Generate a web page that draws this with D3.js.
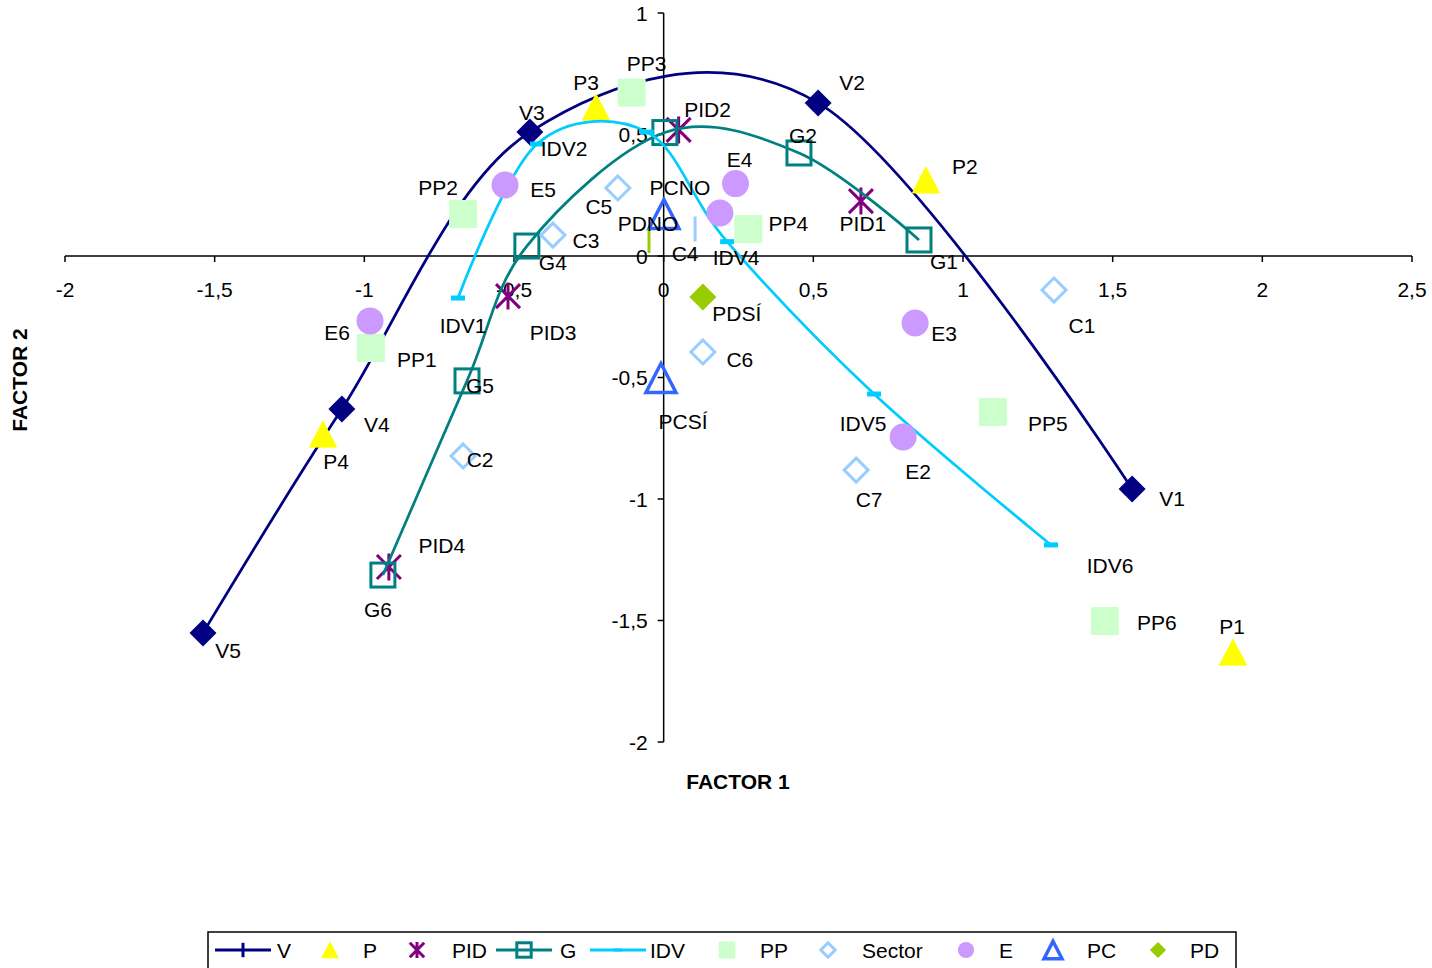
<!DOCTYPE html>
<html>
<head>
<meta charset="utf-8">
<script src="https://cdn.jsdelivr.net/npm/d3@7"></script>
<style>
  html, body { margin: 0; padding: 0; background: #fff; }
  svg { display: block; font-family: "Liberation Sans", Arial, sans-serif; }
</style>
</head>
<body>
<svg id="chart" width="1432" height="968"></svg>
<script>
// ---- Data: factor scores (FACTOR 1, FACTOR 2) ----
const vNames = ["V1", "V2", "V3", "V4", "V5"];
const vX = [1.565, 0.516, -0.447, -1.075, -1.539];
const vY = [-0.959, 0.630, 0.510, -0.630, -1.551];

const pNames = ["P1", "P2", "P3", "P4"];
const pX = [1.902, 0.876, -0.226, -1.138];
const pY = [-1.630, 0.313, 0.613, -0.733];

const pidNames = ["PID1", "PID2", "PID3", "PID4"];
const pidX = [0.659, 0.050, -0.520, -0.918];
const pidY = [0.226, 0.519, -0.165, -1.280];

const gNames = ["G1", "G2", "G3", "G4", "G5", "G6"];
const gX = [0.853, 0.452, 0.004, -0.457, -0.657, -0.938];
const gY = [0.066, 0.424, 0.508, 0.041, -0.514, -1.313];

const idvNames = ["IDV1", "IDV2", "IDV3", "IDV4", "IDV5", "IDV6"];
const idvX = [-0.687, -0.423, -0.056, 0.212, 0.703, 1.294];
const idvY = [-0.173, 0.461, 0.510, 0.059, -0.568, -1.189];

const ppNames = ["PP1", "PP2", "PP3", "PP4", "PP5", "PP6"];
const ppX = [-0.978, -0.670, -0.107, 0.283, 1.100, 1.474];
const ppY = [-0.379, 0.173, 0.673, 0.111, -0.642, -1.502];

const cNames = ["C1", "C2", "C3", "C4", "C5", "C6", "C7"];
const cX = [1.304, -0.670, -0.370, 0.105, -0.153, 0.131, 0.643];
const cY = [-0.140, -0.823, 0.086, 0.111, 0.280, -0.395, -0.881];

const eNames = ["E1", "E2", "E3", "E4", "E5", "E6"];
const eX = [0.188, 0.800, 0.840, 0.240, -0.530, -0.981];
const eY = [0.177, -0.745, -0.276, 0.298, 0.292, -0.267];

const pcNames = ["PCNO", "PCSÍ"];
const pcX = [0.001, -0.009];
const pcY = [0.173, -0.502];

const pdNames = ["PDSÍ", "PDNO"];
const pdX = [0.131, -0.049];
const pdY = [-0.169, 0.064];

const xTicks = [-2, -1.5, -1, -0.5, 0, 0.5, 1, 1.5, 2, 2.5];
const yTicks = [1, 0.5, 0, -0.5, -1, -1.5, -2];
const legendNames = ["V", "P", "PID", "G", "IDV", "PP", "Sector", "E", "PC", "PD"];

// ---- Layout ----
const svg = d3.select("#chart");
const FONT = 21;
const x = d3.scaleLinear().domain([-2, 2.5]).range([65, 1412]);
const y = d3.scaleLinear().domain([-2, 1]).range([742, 13]);
const fmt = v => String(v).replace(".", ",");

const zip = (names, xs, ys) => names.map((n, i) => ({ name: n, x: xs[i], y: ys[i] }));

// Data-label offsets in pixels (label centre relative to the marker)
const labelOffset = {
  V1: [40, 9], V2: [34, -20], V3: [2, -20], V4: [35, 15], V5: [25, 18],
  P1: [-1, -26], P2: [39, -13], P3: [-10, -25], P4: [13, 27],
  PID1: [2, 22], PID2: [29, -20], PID3: [45, 36], PID4: [53, -22],
  G1: [25, 22], G2: [4, -17], G4: [26, 16], G5: [13, 5], G6: [-5, 34],
  IDV1: [5, 27], IDV2: [27, 5], IDV4: [9, 16], IDV5: [-11, 29], IDV6: [59, 21],
  PP1: [46, 11], PP2: [-25, -26], PP3: [15, -29], PP4: [40, -6], PP5: [55, 11], PP6: [52, 2],
  C1: [28, 35], C2: [17, 4], C3: [33, 5], C4: [-10, 24], C5: [-19, 19], C6: [37, 8], C7: [13, 29],
  E2: [15, 34], E3: [29, 10], E4: [4, -24], E5: [38, 4], E6: [-33, 12],
  "PCNO": [16, -26], "PCSÍ": [22, 44],
  "PDSÍ": [34, 16], "PDNO": [-1, -17]
};
// points whose marker is drawn as a collapsed thin bar
const barMarkers = new Set(["C4", "PDNO"]);

// ---- Marker painters (centre cx, cy, scale k) ----
function drawMarker(g, type, cx, cy, k, color, name) {
  if (name && barMarkers.has(name)) {
    g.append("rect").attr("x", cx - 1.5).attr("y", cy - 12.5).attr("width", 3).attr("height", 25)
      .attr("fill", color);
    return;
  }
  switch (type) {
    case "diamond": {
      const r = 13.5 * k;
      g.append("path").attr("d", `M${cx},${cy - r}L${cx + r},${cy}L${cx},${cy + r}L${cx - r},${cy}Z`)
        .attr("fill", color);
      break;
    }
    case "hdiamond": {
      const r = 12 * k;
      g.append("path").attr("d", `M${cx},${cy - r}L${cx + r},${cy}L${cx},${cy + r}L${cx - r},${cy}Z`)
        .attr("fill", "none").attr("stroke", color).attr("stroke-width", 3);
      break;
    }
    case "triangle": {
      const w = 13.5 * k, h = 13 * k;
      g.append("path").attr("d", `M${cx},${cy - h}L${cx + w},${cy + h}L${cx - w},${cy + h}Z`)
        .attr("fill", color).attr("stroke", color).attr("stroke-width", 1).attr("stroke-linejoin", "round");
      break;
    }
    case "htriangle": {
      const w = 15 * k, h = 14.5 * k;
      g.append("path").attr("d", `M${cx},${cy - h}L${cx + w},${cy + h}L${cx - w},${cy + h}Z`)
        .attr("fill", "none").attr("stroke", color).attr("stroke-width", 3.5);
      break;
    }
    case "star": {
      const a = 12 * k, b = 13.5 * k;
      g.append("path")
        .attr("d", `M${cx - a},${cy - a}L${cx + a},${cy + a}M${cx + a},${cy - a}L${cx - a},${cy + a}M${cx},${cy - b}L${cx},${cy + b}`)
        .attr("stroke", color).attr("stroke-width", 3).attr("fill", "none");
      break;
    }
    case "hsquare": {
      const s = 12 * k;
      g.append("rect").attr("x", cx - s).attr("y", cy - s).attr("width", 2 * s).attr("height", 2 * s)
        .attr("fill", "none").attr("stroke", color).attr("stroke-width", 3);
      break;
    }
    case "square": {
      const s = 14 * k;
      g.append("rect").attr("x", cx - s).attr("y", cy - s).attr("width", 2 * s).attr("height", 2 * s)
        .attr("rx", 1.5).attr("fill", color);
      break;
    }
    case "dash": {
      g.append("rect").attr("x", cx - 7 * k).attr("y", cy - 2.5 * k).attr("width", 14 * k).attr("height", 5 * k)
        .attr("fill", color);
      break;
    }
    case "circle": {
      g.append("circle").attr("cx", cx).attr("cy", cy).attr("r", 13.5 * k).attr("fill", color);
      break;
    }
    case "vbar": {
      g.append("rect").attr("x", cx - 1.5).attr("y", cy - 12 * k).attr("width", 3).attr("height", 24 * k)
        .attr("fill", color);
      break;
    }
  }
}

const series = [
  { key: "V", pts: zip(vNames, vX, vY), color: "#000080", marker: "diamond", line: true, legendMarker: "vbar" },
  { key: "P", pts: zip(pNames, pX, pY), color: "#FFFF00", marker: "triangle" },
  { key: "PID", pts: zip(pidNames, pidX, pidY), color: "#800080", marker: "star" },
  { key: "G", pts: zip(gNames, gX, gY), color: "#008080", marker: "hsquare", line: true },
  { key: "IDV", pts: zip(idvNames, idvX, idvY), color: "#00CCFF", marker: "dash", line: true },
  { key: "PP", pts: zip(ppNames, ppX, ppY), color: "#CCFFCC", marker: "square" },
  { key: "Sector", pts: zip(cNames, cX, cY), color: "#99CCFF", marker: "hdiamond" },
  { key: "E", pts: zip(eNames, eX, eY), color: "#CC99FF", marker: "circle" },
  { key: "PC", pts: zip(pcNames, pcX, pcY), color: "#3366FF", marker: "htriangle" },
  { key: "PD", pts: zip(pdNames, pdX, pdY), color: "#99CC00", marker: "diamond" }
];

// ---- Axes crossing at the origin ----
const axes = svg.append("g");
axes.append("line").attr("x1", x(-2)).attr("x2", x(2.5)).attr("y1", y(0)).attr("y2", y(0))
  .attr("stroke", "#000").attr("stroke-width", 1.5);
axes.append("line").attr("x1", x(0)).attr("x2", x(0)).attr("y1", y(1)).attr("y2", y(-2))
  .attr("stroke", "#000").attr("stroke-width", 1.5);
xTicks.forEach(t => {
  axes.append("line").attr("x1", x(t)).attr("x2", x(t)).attr("y1", y(0)).attr("y2", y(0) + 6)
    .attr("stroke", "#000").attr("stroke-width", 1.5);
  axes.append("text").attr("x", x(t)).attr("y", y(0) + 41).attr("text-anchor", "middle")
    .attr("font-size", FONT).attr("fill", "#000").text(fmt(t));
});
yTicks.forEach(t => {
  axes.append("line").attr("x1", x(0) - 6).attr("x2", x(0)).attr("y1", y(t)).attr("y2", y(t))
    .attr("stroke", "#000").attr("stroke-width", 1.5);
  axes.append("text").attr("x", x(0) - 16).attr("y", y(t) + 7.5).attr("text-anchor", "end")
    .attr("font-size", FONT).attr("fill", "#000").text(fmt(t));
});

// ---- Axis titles ----
svg.append("text").attr("x", 738).attr("y", 789).attr("text-anchor", "middle")
  .attr("font-size", 21).attr("font-weight", "bold").text("FACTOR 1");
svg.append("text").attr("transform", "translate(27,380) rotate(-90)").attr("text-anchor", "middle")
  .attr("font-size", 21).attr("font-weight", "bold").text("FACTOR 2");

// ---- Series ----
const lineGen = d3.line().x(d => x(d.x)).y(d => y(d.y)).curve(d3.curveCardinal.tension(0));
const plot = svg.append("g");
series.forEach(s => {
  const g = plot.append("g");
  if (s.line) {
    g.append("path").datum(s.pts).attr("d", lineGen).attr("fill", "none")
      .attr("stroke", s.color).attr("stroke-width", 2.75);
  }
  s.pts.forEach(p => drawMarker(g, s.marker, x(p.x), y(p.y), 1, s.color, p.name));
});

// ---- Data labels ----
const labels = svg.append("g");
series.forEach(s => {
  s.pts.forEach(p => {
    const off = labelOffset[p.name];
    if (!off) return;
    labels.append("text").attr("x", x(p.x) + off[0]).attr("y", y(p.y) + off[1] + 7.5)
      .attr("text-anchor", "middle").attr("font-size", FONT).attr("fill", "#000").text(p.name);
  });
});

// ---- Legend ----
const legend = svg.append("g");
legend.append("rect").attr("x", 208).attr("y", 932).attr("width", 1028).attr("height", 60)
  .attr("fill", "#fff").attr("stroke", "#000").attr("stroke-width", 1.5);
const legendPos = [243, 330, 417, 524, 618, 727, 828, 966, 1053, 1158];
const legendText = [277, 363, 452, 560, 650, 760, 862, 999, 1087, 1190];
const LY = 950;
series.forEach((s, i) => {
  const cx = legendPos[i];
  if (s.line) {
    legend.append("line").attr("x1", cx - 28).attr("x2", cx + 28).attr("y1", LY).attr("y2", LY)
      .attr("stroke", s.color).attr("stroke-width", 3);
  }
  drawMarker(legend, s.legendMarker || s.marker, cx, LY, 0.6, s.color);
  legend.append("text").attr("x", legendText[i]).attr("y", LY + 8).attr("font-size", 21)
    .attr("fill", "#000").text(legendNames[i]);
});
</script>
</body>
</html>
